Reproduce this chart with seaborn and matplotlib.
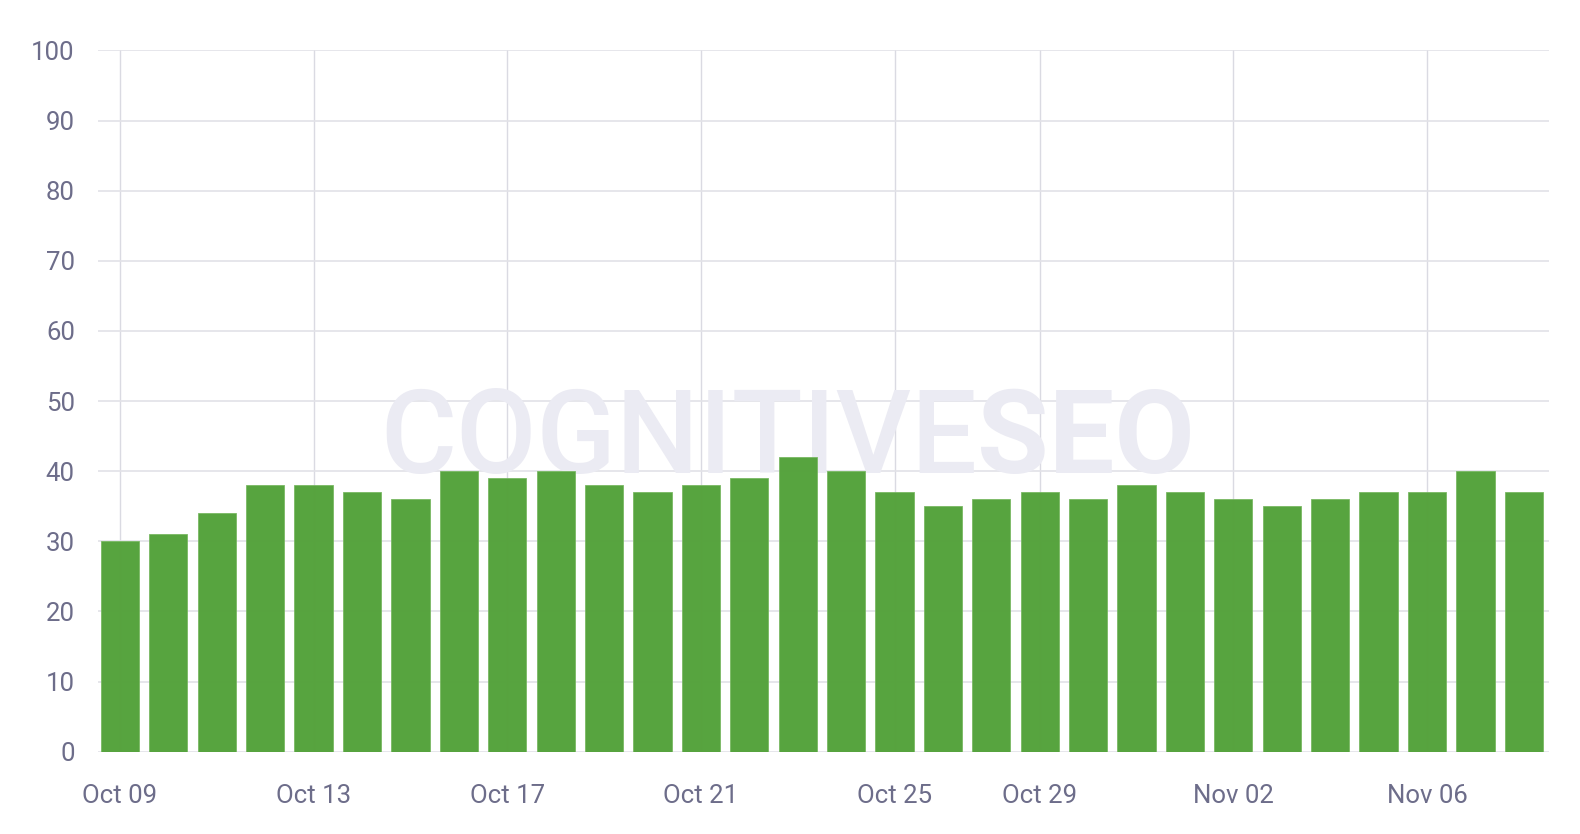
import matplotlib
matplotlib.use("Agg")
import matplotlib.pyplot as plt
import seaborn as sns
import pandas as pd

dates = ["Oct 09", "Oct 10", "Oct 11", "Oct 12", "Oct 13", "Oct 14", "Oct 15", "Oct 16",
         "Oct 17", "Oct 18", "Oct 19", "Oct 20", "Oct 21", "Oct 22", "Oct 23", "Oct 24",
         "Oct 25", "Oct 26", "Oct 28", "Oct 29", "Oct 30", "Oct 31", "Nov 01", "Nov 02",
         "Nov 03", "Nov 04", "Nov 05", "Nov 06", "Nov 07", "Nov 08"]
values = [30, 31, 34, 38, 38, 37, 36, 40, 39, 40, 38, 37, 38, 39, 42, 40,
          37, 35, 36, 37, 36, 38, 37, 36, 35, 36, 37, 37, 40, 37]
tick_labels = ["Oct 09", "Oct 13", "Oct 17", "Oct 21", "Oct 25", "Oct 29", "Nov 02", "Nov 06"]
y_ticks = [0, 10, 20, 30, 40, 50, 60, 70, 80, 90, 100]
watermark_a = "COGNITIVE"
watermark_b = "SEO"

sns.set_theme(style="white")
plt.rcParams['font.family'] = ['Roboto', 'DejaVu Sans']

df = pd.DataFrame({"date": dates, "value": values})

W, H = 1580, 834
L, R, T, B = 97.7, 1549, 50.4, 751.7
fig = plt.figure(figsize=(W / 100, H / 100), dpi=100)
ax = fig.add_axes([L / W, 1 - B / H, (R - L) / W, (B - T) / H])

sns.barplot(data=df, x="date", y="value", order=dates, color="#54a23b",
            saturation=1, width=0.79, ax=ax, zorder=3, alpha=0.98,
            edgecolor="#78b862", linewidth=0.6)

ax.set_xlim(-0.46, len(dates) - 0.48)
ax.set_ylim(0, 100)
ax.set_yticks(y_ticks)
ax.set_yticklabels([str(v) for v in y_ticks])
tick_pos = [dates.index(t) for t in tick_labels]
ax.set_xticks(tick_pos)
ax.set_xticklabels(tick_labels)

ax.set_xlabel("")
ax.set_ylabel("")
for s in ax.spines.values():
    s.set_visible(False)

ax.grid(True, axis="y", color="#e2e2e8", linewidth=1.2, zorder=0)
ax.grid(True, axis="x", color="#dadae2", linewidth=1.0, zorder=0)
ax.set_axisbelow(True)
ax.tick_params(axis="both", length=0, labelsize=18.5, colors="#6d6d8a")
ax.tick_params(axis="y", pad=16.5)
ax.tick_params(axis="x", pad=23)

# watermark
xb = 0.606
ax.text(xb, 39.8, watermark_a, transform=ax.get_yaxis_transform(), ha="right",
        va="baseline", fontsize=84, fontweight="medium", color="#ebebf3", zorder=1)
ax.text(xb, 39.8, watermark_b, transform=ax.get_yaxis_transform(), ha="left",
        va="baseline", fontsize=84, fontweight="bold", color="#ebebf3", zorder=1)

fig.savefig("out.png", dpi=100, facecolor="white")
